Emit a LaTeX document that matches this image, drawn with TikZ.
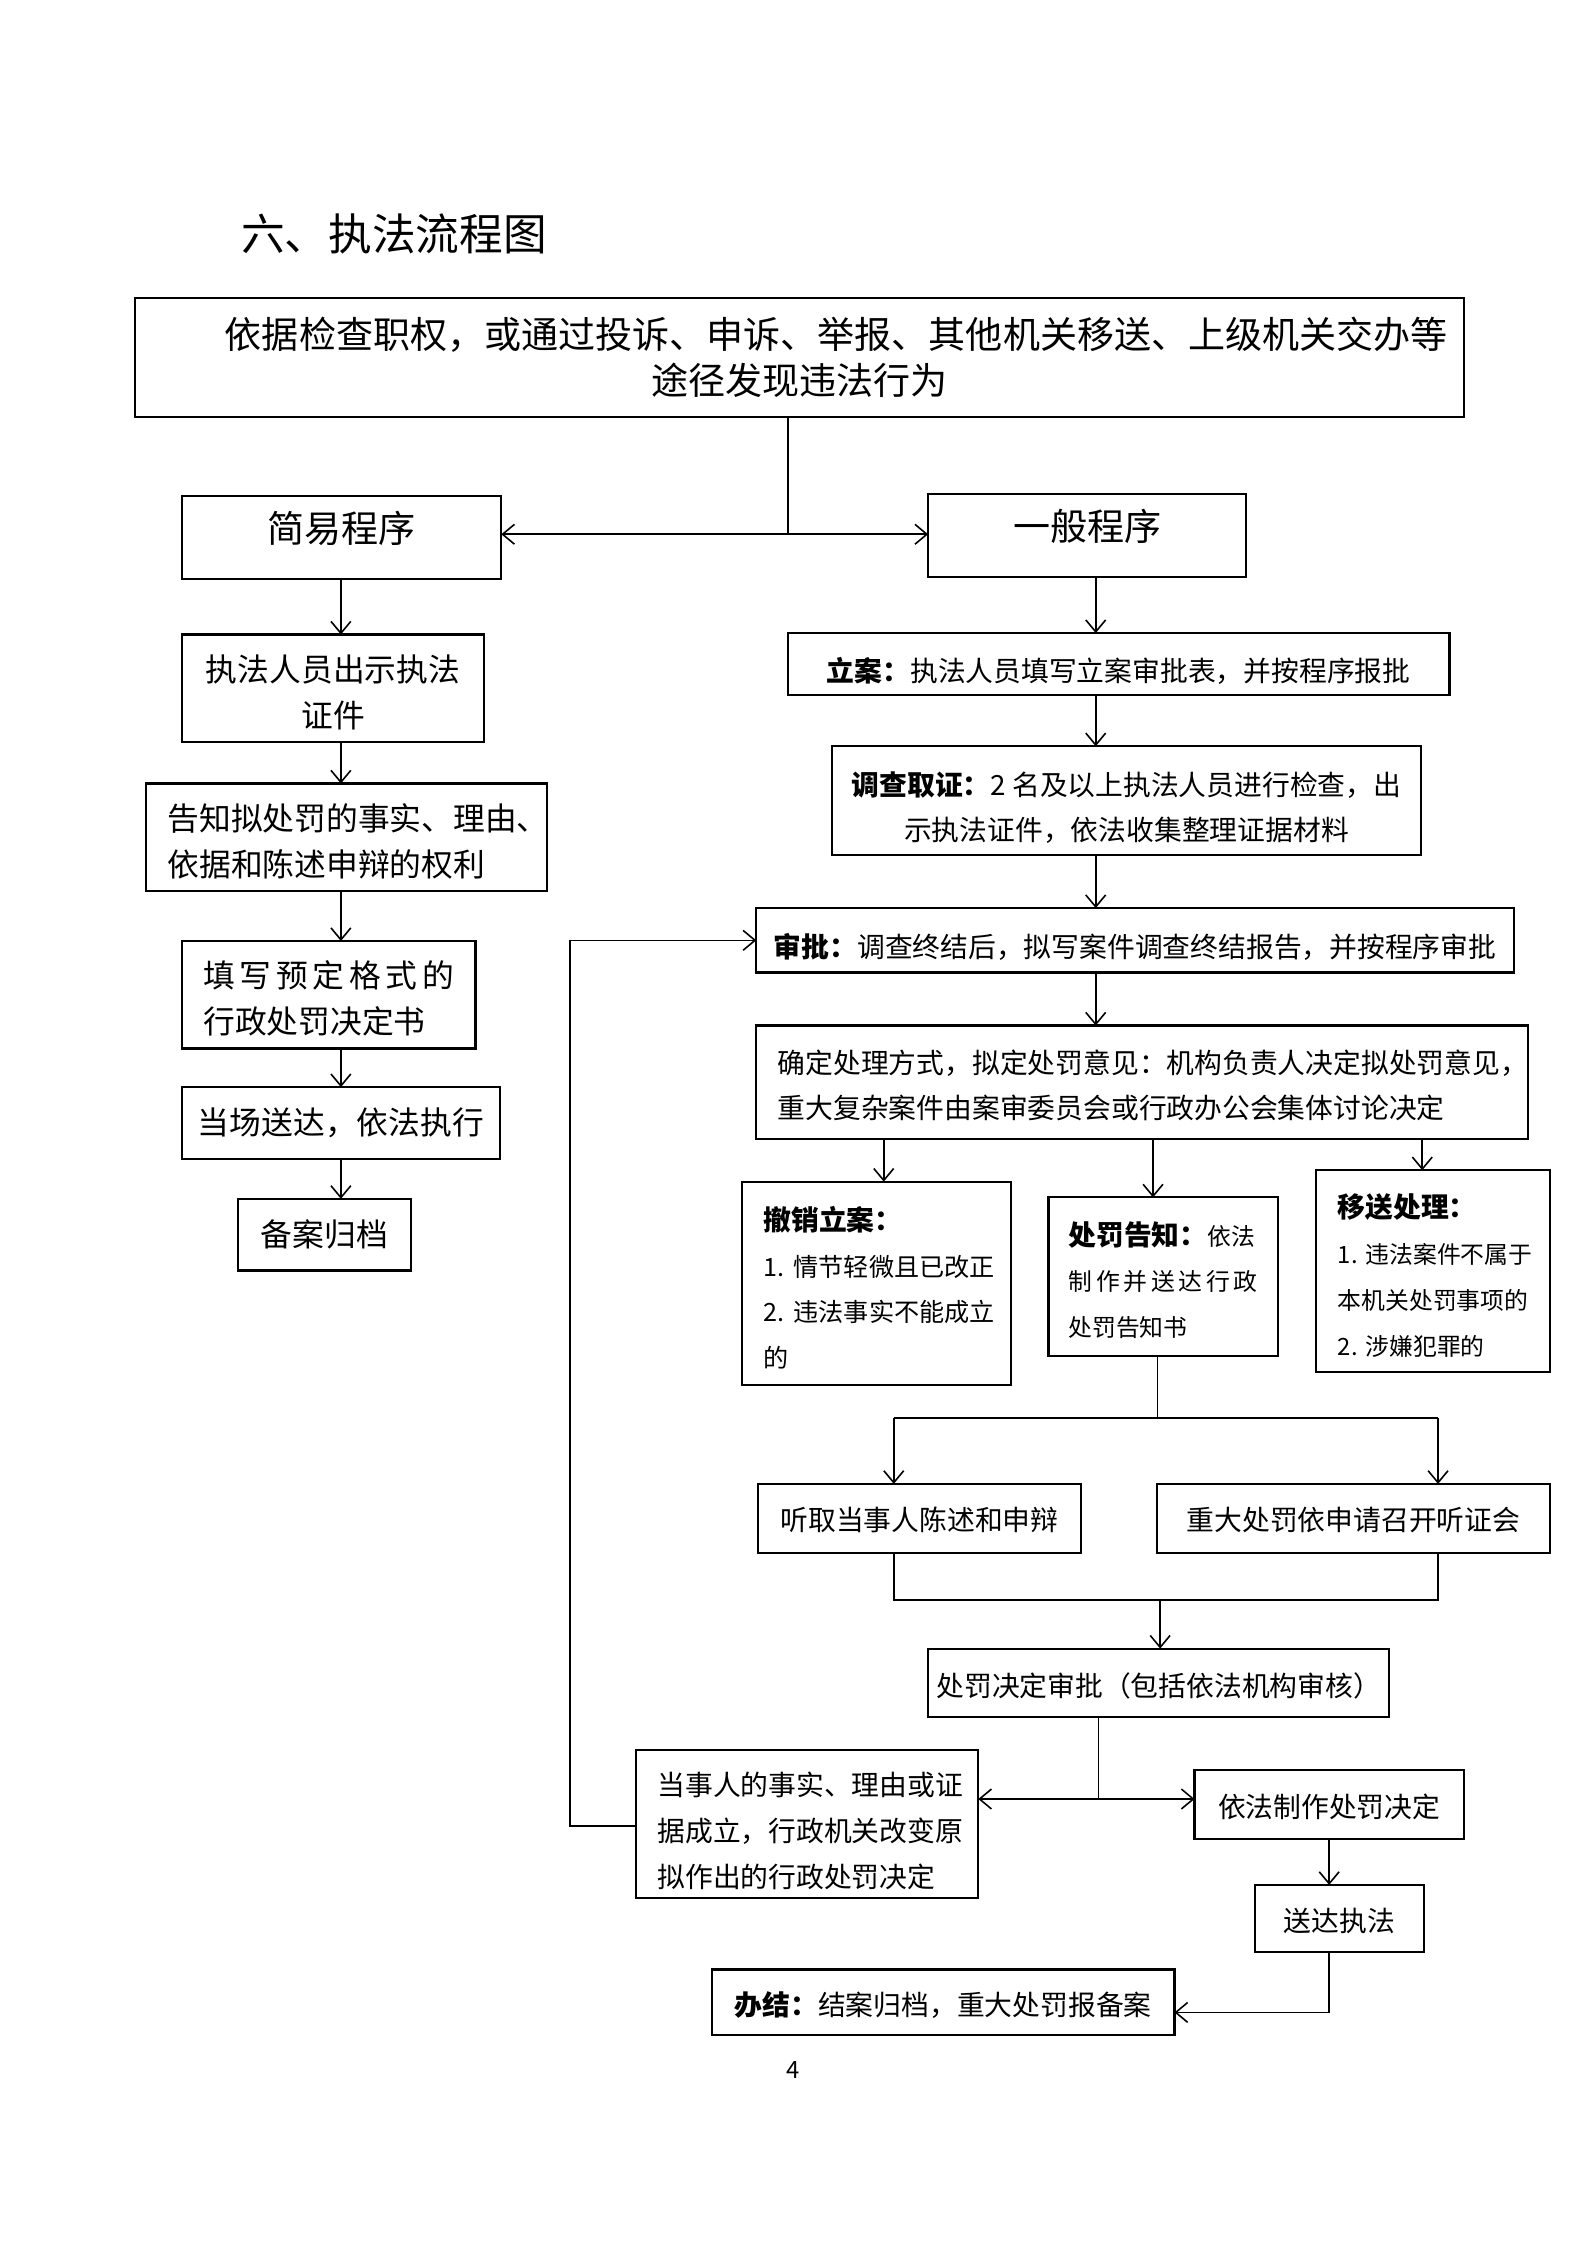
\documentclass[tikz,border=0pt]{standalone}
\usepackage{fontspec}
\setmainfont{Noto Sans CJK SC}
\usetikzlibrary{arrows.meta}
\newcommand\px{0.5412pt}
\newcommand\fsz[1]{\fontsize{#1}{17.3pt}\selectfont}
\newcommand\dn[1]{\rule{0pt}{#1}}
\begin{document}
\begin{tikzpicture}[x=0.5412pt,y=-0.5412pt,
  box/.style={draw, line width=0.8pt, inner sep=0pt, outer sep=0pt},
  ln/.style={line width=0.6pt},
  arr/.style={ln, -{Straight Barb[length=4.5pt,width=7.5pt]}},
  darr/.style={ln, {Straight Barb[length=4.5pt,width=7.5pt]}-{Straight Barb[length=4.5pt,width=7.5pt]}}]
\fill[white] (0,0) rectangle (1108,1567.4);
\useasboundingbox (0,0) rectangle (1108,1567.4);

\node[anchor=west, inner sep=0pt, font=\fsz{16.5}] (title) at (168,163) {六、执法流程图};

\node[box, minimum width=928*\px, minimum height=83*\px, align=center, font=\fsz{14}] (top) at (558,249.5) {\hspace*{2em}依据检查职权，或通过投诉、申诉、举报、其他机关移送、上级机关交办等\\途径发现违法行为};

\node[box, minimum width=223*\px, minimum height=58*\px, text depth=8pt, font=\fsz{14}] (jy) at (238.5,375) {简易程序};
\node[box, minimum width=222*\px, minimum height=58*\px, text depth=8pt, font=\fsz{14}] (yb) at (759,374) {一般程序};

% left column
\node[box, minimum width=211*\px, minimum height=75*\px, align=center, font=\fsz{12}] (zf) at (232.5,480.5) {\dn{13.4pt}执法人员出示执法\\证件};
\node[box, minimum width=280*\px, minimum height=75*\px, text width=250*\px, align=left, font=\fsz{12}] (gz) at (242,584.5) {\dn{13.4pt}告知拟处罚的事实、理由、\\依据和陈述申辩的权利};
\node[box, minimum width=205*\px, minimum height=75*\px, text width=175*\px, align=left, font=\fsz{12}] (tx) at (229.5,694.5) {\leavevmode\dn{12.8pt}\hbox to 94.7pt{填\hfil 写\hfil 预\hfil 定\hfil 格\hfil 式\hfil 的}\\行政处罚决定书};
\node[box, minimum width=222*\px, minimum height=50*\px, font=\fsz{12}] (dc) at (238,784) {当场送达，依法执行};
\node[box, minimum width=121*\px, minimum height=50*\px, font=\fsz{12}] (ba) at (226.5,862) {备案归档};

% right column
\node[box, minimum width=462*\px, minimum height=43*\px, font=\fsz{10.5}] (la) at (781,463.5) {\dn{14.2pt}\textbf{立案：}执法人员填写立案审批表，并按程序报批};
\node[box, minimum width=411*\px, minimum height=76*\px, align=center, font=\fsz{10.5}] (dq) at (786.5,559) {\dn{14.2pt}\textbf{调查取证：}2 名及以上执法人员进行检查，出\\示执法证件，依法收集整理证据材料};
\node[box, minimum width=529*\px, minimum height=45*\px, font=\fsz{10.5}] (sp) at (792.5,656.5) {\dn{14.2pt}\textbf{审批：}调查终结后，拟写案件调查终结报告，并按程序审批};
\node[box, minimum width=539*\px, minimum height=79*\px, text width=509*\px, align=left, font=\fsz{10.5}] (qd) at (797.5,755.5) {\dn{11.4pt}确定处理方式，拟定处罚意见：机构负责人决定拟处罚意见，\\重大复杂案件由案审委员会或行政办公会集体讨论决定};

\node[box, minimum width=188*\px, minimum height=142*\px, text width=158*\px, align=left, font=\fsz{10.5}] (cx) at (612,896) {\dn{12.4pt}\textbf{撤销立案：}\\{\fsz{9.5}1.~情节轻微且已改正}\\{\fsz{9.5}2.~违法事实不能成立}\\{\fsz{9.5}的}};
\node[box, minimum width=160*\px, minimum height=111*\px, text width=132*\px, align=left, font=\fsz{9}] (cf) at (812,891.5) {\dn{11.4pt}{\fsz{10.5}\textbf{处罚告知：}}依法\\\leavevmode\hbox to 71.4pt{制\hfil 作\hfil 并\hfil 送\hfil 达\hfil 行\hfil 政}\\处罚告知书};
\node[box, minimum width=163*\px, minimum height=141*\px, text width=133*\px, align=left, font=\fsz{9}] (ys) at (1000.5,887.5) {\dn{12.4pt}{\fsz{10.5}\textbf{移送处理：}}\\1.~违法案件不属于\\本机关处罚事项的\\2.~涉嫌犯罪的};

\node[box, minimum width=226*\px, minimum height=48*\px, font=\fsz{10.5}] (tq) at (642,1060) {\dn{10.3pt}听取当事人陈述和申辩};
\node[box, minimum width=274*\px, minimum height=48*\px, font=\fsz{10.5}] (zd) at (945,1060) {\dn{10.3pt}重大处罚依申请召开听证会};
\node[box, minimum width=322*\px, minimum height=48*\px, font=\fsz{10.5}] (jd) at (809,1175) {\dn{11.4pt}处罚决定审批（包括依法机构审核）};
\node[box, minimum width=239*\px, minimum height=103*\px, text width=209*\px, align=left, font=\fsz{10.5}] (ds) at (563.5,1273.5) {\dn{13.9pt}当事人的事实、理由或证\\据成立，行政机关改变原\\拟作出的行政处罚决定};
\node[box, minimum width=188*\px, minimum height=48*\px, font=\fsz{10.5}] (yf) at (928,1260) {\dn{10.3pt}依法制作处罚决定};
\node[box, minimum width=118*\px, minimum height=47*\px, font=\fsz{10.5}] (sd) at (935,1339.5) {\dn{10.3pt}送达执法};
\node[box, minimum width=323*\px, minimum height=46*\px, font=\fsz{10.5}] (bj) at (658.5,1398) {\dn{11.4pt}\textbf{办结：}结案归档，重大处罚报备案};

\node[inner sep=0pt, font=\fsz{9}] (pg) at (554,1445) {4};

% helper coordinates
\coordinate (j) at (550,373);
\coordinate (lc) at (238,0);
\coordinate (rc) at (765,0);
\coordinate (a1) at (617,0);
\coordinate (a2) at (805,0);
\coordinate (a3) at (993,0);
\coordinate (m1) at (808,990);
\coordinate (L1) at (624,990);
\coordinate (R1) at (1004,990);
\coordinate (L2) at (624,1117);
\coordinate (R2) at (1004,1117);
\coordinate (m2) at (810,1117);
\coordinate (m3) at (767,1256);
\coordinate (m4) at (928,1405);
\coordinate (fb) at (398,1275);

% connectors
\draw[ln] (j |- top.south) -- (j);
\draw[darr] (jy.east |- j) -- (yb.west |- j);

\draw[arr] (lc |- jy.south) -- (lc |- zf.north);
\draw[arr] (lc |- zf.south) -- (lc |- gz.north);
\draw[arr] (lc |- gz.south) -- (lc |- tx.north);
\draw[arr] (lc |- tx.south) -- (lc |- dc.north);
\draw[arr] (lc |- dc.south) -- (lc |- ba.north);

\draw[arr] (rc |- yb.south) -- (rc |- la.north);
\draw[arr] (rc |- la.south) -- (rc |- dq.north);
\draw[arr] (rc |- dq.south) -- (rc |- sp.north);
\draw[arr] (rc |- sp.south) -- (rc |- qd.north);

\draw[arr] (a1 |- qd.south) -- (a1 |- cx.north);
\draw[arr] (a2 |- qd.south) -- (a2 |- cf.north);
\draw[arr] (a3 |- qd.south) -- (a3 |- ys.north);

\draw[ln] (m1 |- cf.south) -- (m1);
\draw[ln] (L1) -- (R1);
\draw[arr] (L1) -- (L1 |- tq.north);
\draw[arr] (R1) -- (R1 |- zd.north);

\draw[ln] (L2 |- tq.south) -- (L2) -- (R2) -- (R2 |- zd.south);
\draw[arr] (m2) -- (m2 |- jd.north);

\draw[ln] (m3 |- jd.south) -- (m3);
\draw[darr] (ds.east |- m3) -- (yf.west |- m3);
\draw[arr] (yf.south) -- (yf.south |- sd.north);
\draw[arr] (m4 |- sd.south) -- (m4) -- (bj.east |- m4);

\draw[arr] (ds.west |- fb) -- (fb) |- (sp.west);
\end{tikzpicture}
\end{document}
